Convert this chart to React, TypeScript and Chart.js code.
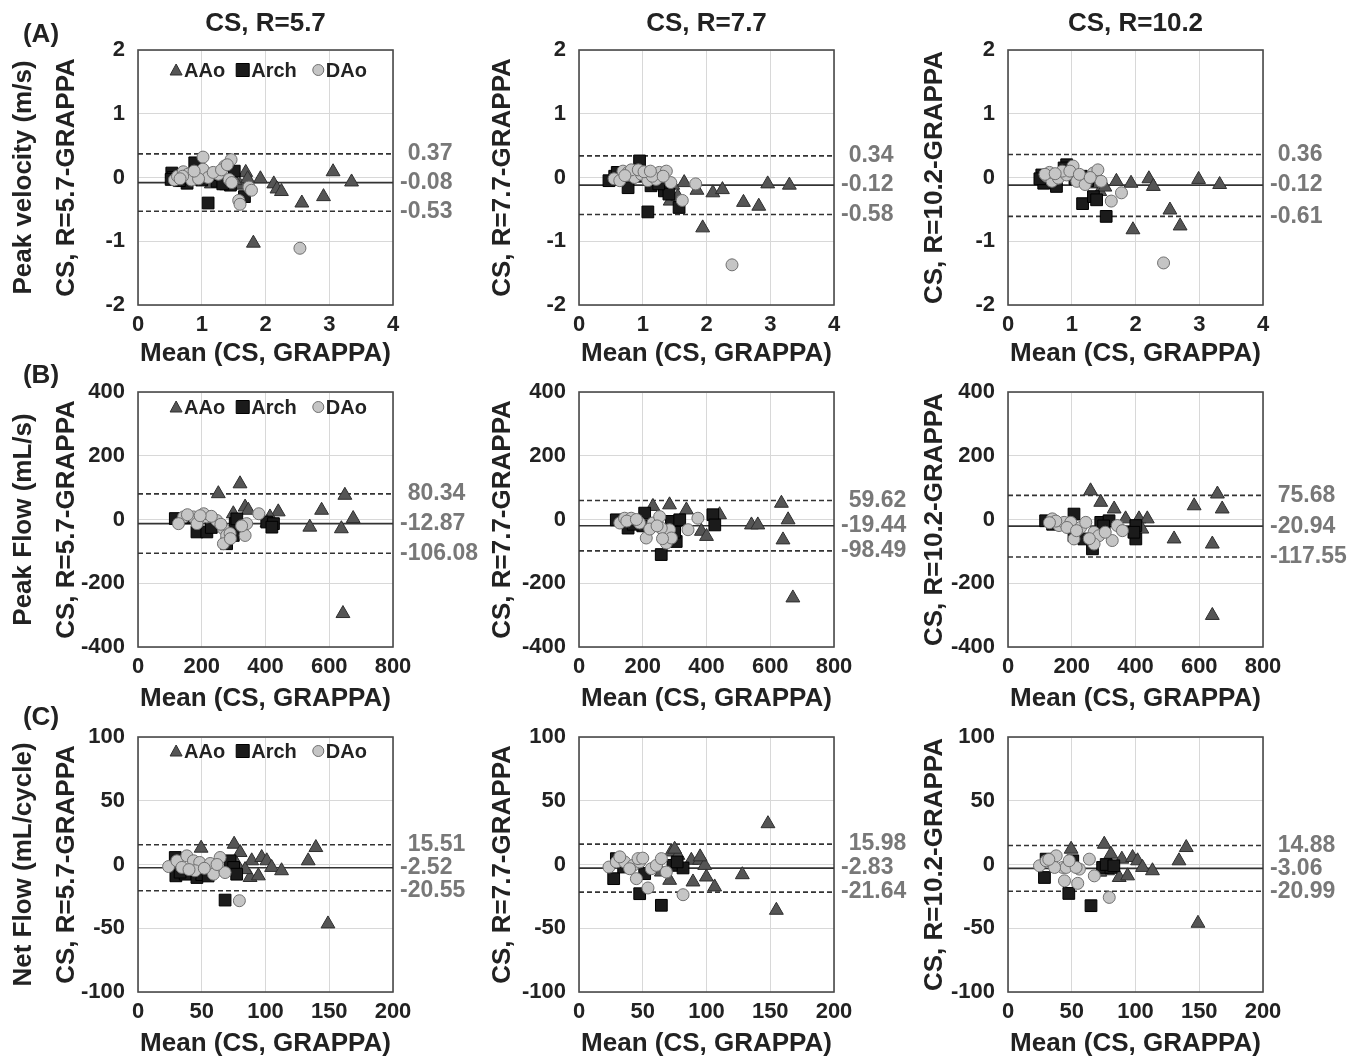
import React, { useEffect, useRef } from 'react';
import { Chart, registerables } from 'chart.js';

Chart.register(...registerables);

const FONT = "'Liberation Sans', Arial, Helvetica, sans-serif";
Chart.defaults.font.family = FONT;

// ---------- labels ----------
const columnTitles = ['CS, R=5.7', 'CS, R=7.7', 'CS, R=10.2'];
const rateLabels = ['5.7', '7.7', '10.2'];
const panelLetters = ['(A)', '(B)', '(C)'];
const rowQuantities = ['Peak velocity (m/s)', 'Peak Flow (mL/s)', 'Net Flow (mL/cycle)'];
const xAxisTitle = 'Mean (CS, GRAPPA)';
const seriesNames = ['AAo', 'Arch', 'DAo'];

// ---------- ticks ----------
const velXTicks = [0, 1, 2, 3, 4];
const velYTicks = [-2, -1, 0, 1, 2];
const pfXTicks = [0, 200, 400, 600, 800];
const pfYTicks = [-400, -200, 0, 200, 400];
const nfXTicks = [0, 50, 100, 150, 200];
const nfYTicks = [-100, -50, 0, 50, 100];

// ---------- (A) Peak velocity ----------
const pv57_LoA = [0.37, -0.08, -0.53];
const pv57_AAo = [[1.69, 0.08], [1.92, -0.02], [2.13, -0.10], [2.18, -0.18], [2.25, -0.22], [3.06, 0.09], [3.35, -0.07], [2.91, -0.30], [2.57, -0.40], [1.81, -1.03], [1.15, -0.10], [1.39, -0.13], [1.60, -0.12], [1.72, -0.02], [1.28, -0.08], [1.52, -0.05]];
const pv57_Arch = [[0.53, 0.07], [0.55, 0.0], [0.77, -0.09], [0.89, 0.23], [1.10, -0.40], [1.51, 0.10], [1.67, -0.30], [1.24, -0.06], [1.45, -0.12], [1.15, 0.05], [1.00, -0.04], [0.65, -0.05], [0.52, -0.03], [1.33, -0.10]];
const pv57_DAo = [[0.57, -0.04], [0.62, 0.02], [0.71, 0.09], [0.78, 0.05], [0.84, -0.04], [0.93, 0.07], [1.02, 0.32], [1.02, 0.13], [1.10, 0.0], [1.26, 0.05], [1.36, 0.18], [1.46, 0.28], [1.43, -0.03], [1.47, -0.08], [1.58, -0.36], [1.60, -0.42], [1.74, -0.15], [1.78, -0.20], [2.54, -1.11], [0.70, 0.02], [0.95, -0.02], [0.66, -0.02], [0.88, 0.10], [1.18, 0.08], [1.31, 0.12], [1.40, 0.20]];

const pv77_LoA = [0.34, -0.12, -0.58];
const pv77_AAo = [[1.65, -0.08], [1.85, -0.20], [2.10, -0.24], [2.25, -0.19], [2.96, -0.10], [3.30, -0.12], [2.58, -0.39], [2.82, -0.45], [1.94, -0.79], [1.43, -0.37], [1.35, -0.15], [1.55, -0.30], [1.20, -0.08], [1.47, -0.12]];
const pv77_Arch = [[0.47, -0.05], [0.56, 0.02], [0.77, -0.16], [0.95, 0.26], [1.15, 0.05], [1.13, -0.13], [1.34, -0.21], [1.41, -0.26], [1.57, -0.47], [1.08, -0.54], [0.60, 0.08], [0.90, 0.02], [1.25, -0.10]];
const pv77_DAo = [[0.55, -0.02], [0.64, -0.05], [0.69, 0.10], [0.77, 0.08], [0.87, 0.0], [0.98, 0.05], [1.08, -0.05], [1.21, -0.03], [1.26, 0.08], [1.37, 0.10], [1.44, -0.08], [1.62, -0.36], [1.83, -0.10], [2.40, -1.37], [0.82, 0.12], [1.15, 0.02], [0.72, 0.03], [0.93, 0.12], [1.02, 0.09], [1.32, 0.02], [1.12, 0.10]];

const pv102_LoA = [0.36, -0.12, -0.61];
const pv102_AAo = [[1.70, -0.06], [1.93, -0.09], [2.21, -0.02], [2.28, -0.14], [2.99, -0.03], [3.32, -0.11], [2.54, -0.51], [2.70, -0.76], [1.96, -0.82], [1.44, -0.22], [1.30, -0.10], [1.18, -0.05], [1.52, -0.15]];
const pv102_Arch = [[0.53, 0.04], [0.56, -0.09], [0.76, -0.14], [0.92, 0.20], [1.15, 0.02], [1.17, -0.41], [1.34, -0.30], [1.39, -0.35], [1.54, -0.61], [0.88, 0.15], [1.25, -0.05], [0.50, -0.02], [1.05, -0.02]];
const pv102_DAo = [[0.61, 0.02], [0.69, -0.06], [0.79, -0.01], [0.92, 0.04], [1.02, 0.18], [1.08, -0.06], [1.21, -0.11], [1.34, 0.07], [1.41, 0.12], [1.46, -0.06], [1.62, -0.37], [1.78, -0.24], [2.44, -1.34], [0.65, 0.08], [0.85, 0.10], [0.58, 0.05], [0.74, 0.06], [0.97, 0.10], [1.12, 0.05], [1.29, 0.00]];

// ---------- (B) Peak flow ----------
const pf57_LoA = [80.34, -12.87, -106.08];
const pf57_AAo = [[252, 81], [320, 112], [336, 39], [299, 18], [346, 29], [440, 24], [414, 8], [539, -24], [576, 29], [649, 76], [675, 3], [638, -29], [643, -295], [405, -10], [230, -20], [310, -30]];
const pf57_Arch = [[117, 3], [185, -39], [216, -39], [305, -13], [299, -50], [278, -76], [404, -8], [425, -13], [420, -24], [160, 5], [230, -25], [310, 2]];
const pf57_DAo = [[143, 8], [127, -13], [174, 8], [185, -13], [216, 8], [247, -3], [268, -29], [278, -50], [268, -76], [289, -44], [336, -50], [341, -13], [379, 18], [206, 18], [230, 10], [155, 15], [195, 12], [260, -15], [290, -60], [325, -20]];

const pf77_LoA = [59.62, -19.44, -98.49];
const pf77_AAo = [[232, 41], [284, 46], [337, 30], [384, -37], [400, -53], [441, 15], [541, -17], [561, -17], [635, 51], [656, -1], [640, -64], [671, -246], [300, -10]];
const pf77_Arch = [[117, -1], [154, -27], [206, 20], [258, -110], [290, -6], [305, -69], [316, -1], [420, 15], [426, -17], [200, -20], [170, -15], [300, -40]];
const pf77_DAo = [[128, -11], [143, 4], [164, 4], [190, -11], [211, -58], [232, -11], [253, 9], [268, -48], [274, -74], [284, -32], [290, -58], [342, -32], [373, 4], [258, -27], [150, -5], [180, 0], [222, -30], [245, -20], [262, -60]];

const pf102_LoA = [75.68, -20.94, -117.55];
const pf102_AAo = [[259, 90], [291, 54], [333, 33], [369, 2], [411, 2], [437, 2], [521, -61], [584, 43], [657, 80], [672, 33], [641, -77], [641, -301], [300, -15], [420, -30]];
const pf102_Arch = [[118, -4], [207, 17], [207, -51], [238, -61], [265, -92], [291, -9], [317, -4], [401, -19], [401, -61], [395, -40], [140, -15], [300, -20]];
const pf102_DAo = [[139, 2], [160, -19], [176, -9], [197, -9], [207, -61], [228, -25], [244, -9], [270, -40], [285, -51], [270, -77], [327, -66], [343, -19], [359, -35], [150, -5], [130, -10], [185, -25], [215, -35], [255, -60], [305, -40]];

// ---------- (C) Net flow ----------
const nf57_LoA = [15.51, -2.52, -20.55];
const nf57_AAo = [[49.5, 12.8], [75.4, 15.9], [80.1, 9.4], [89.2, 2.9], [97, 5.5], [101, 2.9], [104.8, -2.3], [112.6, -4.9], [87.9, -10.2], [94.4, -8.9], [133.5, 2.9], [139.5, 13.3], [149, -46.6], [77.4, 0.3], [84, -4]];
const nf57_Arch = [[29.2, 5.5], [29.7, -8.9], [37, -7.6], [46.2, -10.2], [72.2, 2.9], [75, -2.3], [77.4, -7.6], [68.3, -27.9], [50, -8], [33, -6], [55, -9]];
const nf57_DAo = [[24, -1.6], [30.5, 2.9], [38.3, 6.8], [43.5, 2.9], [48.4, 1.6], [44.8, -4.9], [56.6, 0.8], [64.4, 5.5], [59.2, -7.6], [68.3, -6.3], [79.5, -28.4], [34.4, -2.3], [52, -3], [40, -4], [62, 0]];

const nf77_LoA = [15.98, -2.83, -21.64];
const nf77_AAo = [[72.4, 9.8], [77.6, 7.2], [88.1, 3.3], [94.6, 3.3], [98.6, -0.7], [89.4, -13.7], [71.1, -12.4], [99.9, -9.8], [106.4, -17.6], [128.1, -8.0], [148.2, 32], [154.8, -35.9], [64.6, -5.9], [75, 12], [95, 6]];
const nf77_Arch = [[29.3, 4.6], [27.2, -11.1], [47.6, -22.9], [64.6, -32], [73.7, -0.7], [81.6, -2.7], [51.5, -7.2], [35, -2], [77, 2]];
const nf77_DAo = [[23.5, -2], [29.3, 2], [35.8, 2], [42.4, -0.7], [45, -11.1], [47.6, 2], [54.1, -18.4], [56.7, -3.3], [60.7, -0.7], [64.6, 4.6], [68.5, -5.9], [81.6, -23.7], [46.3, 4.6], [39.7, -3.3], [32, 6], [50, 5]];

const nf102_LoA = [14.88, -3.06, -20.99];
const nf102_AAo = [[49.5, 12], [75.5, 15.9], [80.7, 8.1], [89.3, 4.2], [97.7, 5.5], [101.6, 2.9], [105.5, -2.3], [113.3, -4.9], [87.2, -10.2], [93.8, -8.9], [134.1, 2.9], [139.8, 13.3], [149, -46.1], [78.1, -4.9], [72, -6]];
const nf102_Arch = [[29.9, 4.2], [28.6, -10.2], [47.7, -22.7], [65.1, -32.3], [74.2, -2.3], [80.7, -2.3], [50.8, 2.9], [77, 0], [83, -1]];
const nf102_DAo = [[24.7, -1], [29.9, 2.9], [37.8, 6.8], [43, -2.3], [45.6, -2.3], [44.3, -12.8], [54.7, -14.8], [56, -3.6], [63.8, 4.2], [67.7, -8.9], [79.4, -25.8], [36.5, -2.3], [53.4, -2.3], [32, 4], [48, 3]];

// ---------- layout ----------
const COL_LEFT = [138, 579, 1008];
const ROW_TOP = [50, 392, 737];
const PLOT = 255;
const AXIS_W = 138;
const PAD_TOP = 50;
const CW = 488;
const CH = 380;
const X_TITLE_D = [49, 52, 52];
const LEGEND_OFF = [20, 15, 14];
const Y_TITLE_CENTER = [67, 62, 65];

const panels = [
  { row: 0, col: 0, aao: pv57_AAo, arch: pv57_Arch, dao: pv57_DAo, loa: pv57_LoA, xt: velXTicks, yt: velYTicks },
  { row: 0, col: 1, aao: pv77_AAo, arch: pv77_Arch, dao: pv77_DAo, loa: pv77_LoA, xt: velXTicks, yt: velYTicks },
  { row: 0, col: 2, aao: pv102_AAo, arch: pv102_Arch, dao: pv102_DAo, loa: pv102_LoA, xt: velXTicks, yt: velYTicks },
  { row: 1, col: 0, aao: pf57_AAo, arch: pf57_Arch, dao: pf57_DAo, loa: pf57_LoA, xt: pfXTicks, yt: pfYTicks },
  { row: 1, col: 1, aao: pf77_AAo, arch: pf77_Arch, dao: pf77_DAo, loa: pf77_LoA, xt: pfXTicks, yt: pfYTicks },
  { row: 1, col: 2, aao: pf102_AAo, arch: pf102_Arch, dao: pf102_DAo, loa: pf102_LoA, xt: pfXTicks, yt: pfYTicks },
  { row: 2, col: 0, aao: nf57_AAo, arch: nf57_Arch, dao: nf57_DAo, loa: nf57_LoA, xt: nfXTicks, yt: nfYTicks },
  { row: 2, col: 1, aao: nf77_AAo, arch: nf77_Arch, dao: nf77_DAo, loa: nf77_LoA, xt: nfXTicks, yt: nfYTicks },
  { row: 2, col: 2, aao: nf102_AAo, arch: nf102_Arch, dao: nf102_DAo, loa: nf102_LoA, xt: nfXTicks, yt: nfYTicks },
];

const STYLE = {
  AAo: { fill: '#555555', stroke: '#2e2e2e' },
  Arch: { fill: '#1b1b1b', stroke: '#000000' },
  DAo: { fill: '#c5c5c5', stroke: '#6f6f6f' },
};

const boxPlugin = {
  id: 'plotBox',
  beforeDatasetsDraw(chart: any) {
    const { ctx, chartArea } = chart;
    ctx.save();
    ctx.strokeStyle = '#4a4a4a';
    ctx.lineWidth = 1.6;
    ctx.strokeRect(chartArea.left, chartArea.top, chartArea.right - chartArea.left, chartArea.bottom - chartArea.top);
    ctx.restore();
  },
};

const loaLabelPlugin = {
  id: 'loaLabels',
  afterDatasetsDraw(chart: any, _args: any, opts: any) {
    const { ctx, chartArea } = chart;
    const y = chart.scales.y;
    ctx.save();
    ctx.font = `bold 23px ${FONT}`;
    ctx.fillStyle = '#787878';
    ctx.textBaseline = 'middle';
    ctx.textAlign = 'left';
    const dash = ctx.measureText('-').width;
    (opts.values || []).forEach((v: number) => {
      const py = y.getPixelForValue(v);
      ctx.fillText(v.toFixed(2), chartArea.right + 7 + (v >= 0 ? dash : 0), py);
    });
    ctx.restore();
  },
};

function drawMarker(ctx: CanvasRenderingContext2D, kind: string, cx: number, cy: number) {
  const st = (STYLE as any)[kind];
  ctx.fillStyle = st.fill;
  ctx.strokeStyle = st.stroke;
  ctx.lineWidth = 1;
  ctx.beginPath();
  if (kind === 'AAo') {
    ctx.moveTo(cx, cy - 6);
    ctx.lineTo(cx + 6, cy + 5);
    ctx.lineTo(cx - 6, cy + 5);
    ctx.closePath();
  } else if (kind === 'Arch') {
    ctx.rect(cx - 6.5, cy - 6.5, 13, 13);
  } else {
    ctx.arc(cx, cy, 5.5, 0, Math.PI * 2);
  }
  ctx.fill();
  ctx.stroke();
}

const legendPlugin = {
  id: 'innerLegend',
  afterDatasetsDraw(chart: any, _args: any, opts: any) {
    if (!opts.show) return;
    const { ctx, chartArea } = chart;
    ctx.save();
    ctx.font = `bold 20px ${FONT}`;
    ctx.textBaseline = 'middle';
    ctx.textAlign = 'left';
    const markerW = [12, 13, 11];
    const gapAfter = [11, 16, 0];
    let total = 0;
    seriesNames.forEach((n, i) => {
      total += markerW[i] + 2 + ctx.measureText(n).width + gapAfter[i];
    });
    let x = (chartArea.left + chartArea.right) / 2 + 3 - total / 2;
    const cy = chartArea.top + opts.offset;
    seriesNames.forEach((n, i) => {
      drawMarker(ctx, n, x + markerW[i] / 2, cy);
      x += markerW[i] + 2;
      ctx.fillStyle = '#222';
      ctx.fillText(n, x, cy + 1);
      x += ctx.measureText(n).width + gapAfter[i];
    });
    ctx.restore();
  },
};

function buildConfig(p: any) {
  const pts = (arr: number[][]) => arr.map(([x, y]) => ({ x, y }));
  const xmin = p.xt[0];
  const xmax = p.xt[p.xt.length - 1];
  const line = (v: number, dash: number[], order: number) => ({
    label: 'line' + v,
    data: [{ x: xmin, y: v }, { x: xmax, y: v }],
    showLine: true,
    borderColor: '#333333',
    borderWidth: 1.6,
    borderDash: dash,
    pointRadius: 0,
    fill: false,
    order,
  });
  const yTitle = p.col === 0
    ? [rowQuantities[p.row], `CS, R=${rateLabels[p.col]}-GRAPPA`]
    : `CS, R=${rateLabels[p.col]}-GRAPPA`;
  const yLineH = p.col === 0 ? 1.65 : 1.2;
  const yPad = p.col === 0
    ? Y_TITLE_CENTER[0] - 26 * 1.65 - 13 * 1.65
    : Y_TITLE_CENTER[p.col] - 26 * 1.2 * 0.5;
  return {
    type: 'scatter',
    data: {
      datasets: [
        { label: seriesNames[0], data: pts(p.aao), pointStyle: 'triangle', pointRadius: 8, backgroundColor: STYLE.AAo.fill, borderColor: STYLE.AAo.stroke, borderWidth: 1, order: 2 },
        { label: seriesNames[1], data: pts(p.arch), pointStyle: 'rect', pointRadius: 8.3, backgroundColor: STYLE.Arch.fill, borderColor: STYLE.Arch.stroke, borderWidth: 1, order: 1 },
        { label: seriesNames[2], data: pts(p.dao), pointStyle: 'circle', pointRadius: 6, backgroundColor: STYLE.DAo.fill, borderColor: STYLE.DAo.stroke, borderWidth: 1, order: 0 },
        line(p.loa[0], [5, 3], 5),
        line(p.loa[1], [], 5),
        line(p.loa[2], [5, 3], 5),
      ],
    },
    options: {
      responsive: false,
      animation: false,
      events: [],
      layout: { padding: { left: 0, top: PAD_TOP, right: CW - AXIS_W - PLOT, bottom: 0 } },
      plugins: {
        legend: { display: false },
        tooltip: { enabled: false },
        loaLabels: { values: p.loa },
        innerLegend: { show: p.col === 0, offset: LEGEND_OFF[p.row] },
      },
      scales: {
        x: {
          type: 'linear',
          min: xmin,
          max: xmax,
          afterBuildTicks: (s: any) => { s.ticks = p.xt.map((v: number) => ({ value: v })); },
          afterFit: (s: any) => { s.height = CH - PAD_TOP - PLOT; s.paddingLeft = 0; s.paddingRight = 0; s.paddingTop = 0; s.paddingBottom = 0; },
          grid: { color: '#d8d8d8', lineWidth: 1, drawTicks: false },
          border: { display: false },
          ticks: { font: { size: 22, weight: 'bold' }, color: '#222', padding: 7, maxRotation: 0, autoSkip: false, callback: (v: any) => `${v}` },
          title: { display: true, text: xAxisTitle, color: '#222', font: { size: 26, weight: 'bold', lineHeight: 1.2 }, padding: { top: 0, bottom: 59.4 - X_TITLE_D[p.row] } },
        },
        y: {
          type: 'linear',
          min: p.yt[0],
          max: p.yt[p.yt.length - 1],
          afterBuildTicks: (s: any) => { s.ticks = p.yt.map((v: number) => ({ value: v })); },
          afterFit: (s: any) => { s.width = AXIS_W; s.paddingTop = 0; s.paddingBottom = 0; s.paddingLeft = 0; s.paddingRight = 0; },
          grid: { color: '#d8d8d8', lineWidth: 1, drawTicks: false },
          border: { display: false },
          ticks: { font: { size: 22, weight: 'bold' }, color: '#222', padding: 13, autoSkip: false, callback: (v: any) => `${v}` },
          title: { display: true, text: yTitle, color: '#222', font: { size: 26, weight: 'bold', lineHeight: yLineH }, padding: { top: yPad, bottom: 0 } },
        },
      },
    },
    plugins: [boxPlugin, loaLabelPlugin, legendPlugin],
  };
}

function Panel({ p }: { p: any }) {
  const ref = useRef<HTMLCanvasElement | null>(null);
  useEffect(() => {
    if (!ref.current) return;
    const chart = new Chart(ref.current, buildConfig(p) as any);
    return () => chart.destroy();
  }, [p]);
  return (
    <canvas
      ref={ref}
      width={CW}
      height={CH}
      style={{ position: 'absolute', left: COL_LEFT[p.col] - AXIS_W, top: ROW_TOP[p.row] - PAD_TOP, width: CW, height: CH }}
    />
  );
}

const textStyle = (x: number, y: number): React.CSSProperties => ({
  position: 'absolute',
  left: x,
  top: y,
  transform: 'translate(-50%, -50%)',
  font: `bold 26px ${FONT}`,
  lineHeight: '26px',
  whiteSpace: 'nowrap',
  color: '#222',
});

export default function App() {
  return (
    <div style={{ position: 'absolute', left: 0, top: 0, width: 1358, height: 1059, overflow: 'hidden', background: '#fff' }}>
      {panels.map((p, i) => <Panel key={i} p={p} />)}
      {columnTitles.map((t, i) => (
        <div key={'t' + i} style={textStyle(COL_LEFT[i] + PLOT / 2, 22)}>{t}</div>
      ))}
      <div style={textStyle(41, 33)}>{panelLetters[0]}</div>
      <div style={textStyle(41, 374)}>{panelLetters[1]}</div>
      <div style={textStyle(41, 716)}>{panelLetters[2]}</div>
    </div>
  );
}
